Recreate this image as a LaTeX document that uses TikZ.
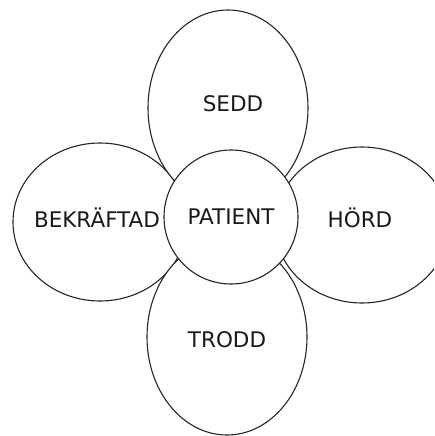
\documentclass[tikz,border=0pt]{standalone}
\usepackage{fontspec}
\setmainfont{DejaVu Sans}
\usepackage{tikz}
\usetikzlibrary{shapes.geometric}
\tikzset{
  word/.style={font=\fontsize{21.5}{25}\selectfont,text=black!90},
  petal/.style={ellipse,draw=black!85,line width=1.1pt,fill=white,inner sep=0pt},
  core/.style={circle,draw=black!85,line width=1.1pt,fill=white,inner sep=0pt,
    minimum size=134pt,word}
}
\begin{document}
\begin{tikzpicture}[x=1pt,y=-1pt]
\useasboundingbox (0,0) rectangle (434,436);
\clip (0,0) rectangle (434,436);
% four petals round the patient
\node[petal,minimum width=174pt,minimum height=158pt,
  label={[word,xshift=-3pt,yshift=4pt]center:BEKRÄFTAD}] (B) at (100,222) {};
\node[petal,minimum width=174pt,minimum height=156pt,
  label={[word,xshift=-2pt,yshift=7pt]center:HÖRD}] (H) at (362,225) {};
\node[petal,minimum width=160pt,minimum height=196pt,
  label={[word,xshift=5pt,yshift=4pt]center:SEDD}] (S) at (228,108) {};
\node[petal,minimum width=160pt,minimum height=196pt,
  label={[word,yshift=-3pt]center:TRODD}] (T) at (227,337) {};
% centre
\node[core] (P) at (231,217) {PATIENT};
\end{tikzpicture}
\end{document}
